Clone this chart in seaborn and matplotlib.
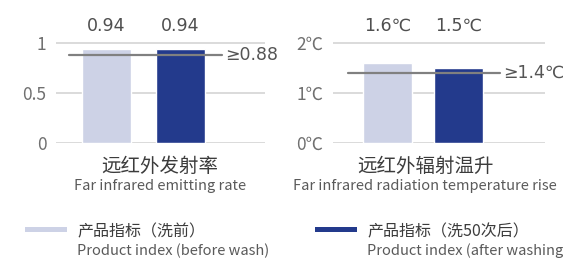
import matplotlib
matplotlib.use('agg')
import matplotlib.pyplot as plt
from matplotlib.patches import Rectangle
import seaborn as sns
import pandas as pd

sns.set_theme(style="white")
plt.rcParams['font.family'] = ['Noto Sans CJK SC', 'DejaVu Sans']

series = ["产品指标（洗前）", "产品指标（洗50次后）"]
series_en = ["Product index (before wash)", "Product index (after washing)"]
colors = ["#cdd2e6", "#233a8c"]

emit_values = [0.94, 0.94]
emit_labels = ["0.94", "0.94"]
emit_threshold = 0.88
emit_threshold_label = "≥0.88"
emit_ticks = [0, 0.5, 1]
emit_ticklabels = ["0", "0.5", "1"]

temp_values = [1.6, 1.5]
temp_labels = ["1.6℃", "1.5℃"]
temp_threshold = 1.4
temp_threshold_label = "≥1.4℃"
temp_ticks = [0, 1, 2]
temp_ticklabels = ["0℃", "1℃", "2℃"]

titles_cn = ["远红外发射率", "远红外辐射温升"]
titles_en = ["Far infrared emitting rate", "Far infrared radiation temperature rise"]

W, H = 563, 259
fig = plt.figure(figsize=(W / 100, H / 100), dpi=100)
num_font = ['DejaVu Sans', 'Noto Sans CJK SC']


def px(x0, y0, x1, y1):
    return [x0 / W, 1 - y1 / H, (x1 - x0) / W, (y1 - y0) / H]


def panel(rect, values, labels, thr, thr_label, ticks, ticklabels, ymax, xlim, width, thr_x):
    ax = fig.add_axes(rect)
    df = pd.DataFrame({"cat": series, "val": values})
    sns.barplot(data=df, x="cat", y="val", hue="cat", palette=colors,
                width=width, legend=False, ax=ax, saturation=1)
    ax.set_ylim(0, ymax)
    ax.set_xlim(*xlim)
    ax.set_yticks(ticks)
    ax.set_yticklabels(ticklabels, color="#707070", fontsize=12.5)
    ax.set_xticks([])
    ax.set_xlabel("")
    ax.set_ylabel("")
    ax.tick_params(axis="y", length=0, pad=7)
    for s in ax.spines.values():
        s.set_visible(False)
    ax.yaxis.grid(True, color="#d4d4d4", linewidth=1.2)
    ax.set_axisbelow(True)
    for i, lab in enumerate(labels):
        ax.annotate(lab, (i, ymax), xytext=(0, -2), textcoords="offset points",
                    ha="center", va="center", fontsize=12.5, color="#4f4f4f",
                    family=num_font, annotation_clip=False)
    ax.plot(thr_x, [thr, thr], color="#808080", linewidth=1.6, clip_on=False, zorder=5)
    ax.annotate(thr_label, (thr_x[1], thr), xytext=(2, 0), textcoords="offset points",
                ha="left", va="center", fontsize=12.5, color="#555555",
                family=num_font, annotation_clip=False)
    return ax


panel(px(56, 23, 265, 143), emit_values, emit_labels, emit_threshold,
      emit_threshold_label, emit_ticks, emit_ticklabels, 1.2,
      (-0.682, 2.142), 0.66, [-0.507, 1.56])
panel(px(333, 23, 545, 143), temp_values, temp_labels, temp_threshold,
      temp_threshold_label, temp_ticks, temp_ticklabels, 2.4,
      (-0.768, 2.218), 0.69, [-0.556, 1.585])

# panel captions
for cx, cn, en in zip([160, 425], titles_cn, titles_en):
    fig.text(cx / W, 1 - 166 / H, cn, ha="center", va="center", fontsize=14, color="#3c3c3c")
    fig.text(cx / W, 1 - 186 / H, en, ha="center", va="center", fontsize=10.5, color="#5a5a5a")

# legend
for lx, c, cn, en in zip([25, 315], colors, series, series_en):
    fig.add_artist(Rectangle((lx / W, 1 - 232 / H), 42 / W, 5 / H,
                             transform=fig.transFigure, color=c, lw=0))
    fig.text((lx + 52) / W, 1 - 232 / H, cn, ha="left", va="center", fontsize=11.5, color="#3c3c3c")
    fig.text((lx + 52) / W, 1 - 251 / H, en, ha="left", va="center", fontsize=10.5, color="#5a5a5a")

fig.savefig("out.png", dpi=100)
plt.close()
